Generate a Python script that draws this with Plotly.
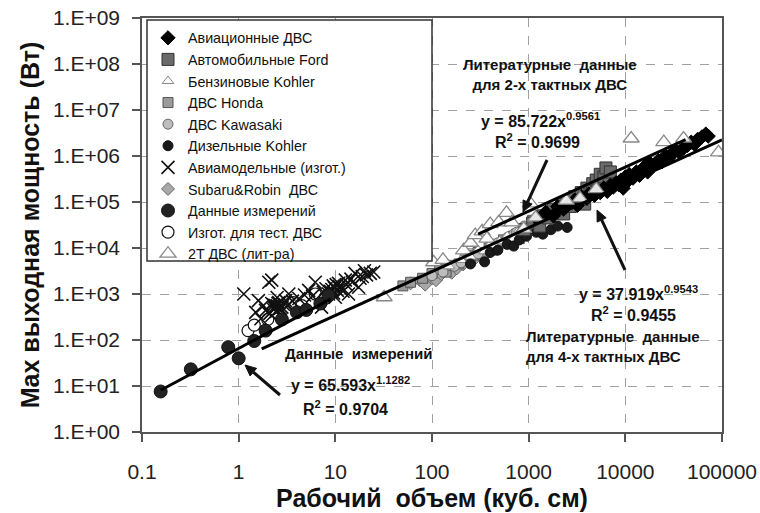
import math
import plotly.graph_objects as go

# ---------------- data ----------------
avia_x = [1200, 1500, 1800, 2000, 2300, 2600, 3000, 3200, 3500, 4000, 4200, 4800, 5000, 5500, 6000, 6500,
          7000, 7500, 8000, 8500, 9000, 9500, 10000, 10500, 11000, 12000, 13000, 14000, 15000, 16000, 17000,
          18000, 20000, 22000, 24000, 26000, 28000, 30000, 33000, 36000, 40000, 44000, 48000, 52000, 56000,
          62000, 68000, 72000]
avia_y = [45000, 60000, 50000, 80000, 70000, 90000, 110000, 85000, 130000, 120000, 150000, 140000, 180000,
          160000, 200000, 170000, 230000, 210000, 260000, 240000, 300000, 200000, 350000, 280000, 400000,
          330000, 450000, 380000, 500000, 600000, 450000, 700000, 650000, 800000, 750000, 1000000, 900000,
          1100000, 1300000, 1200000, 1500000, 1700000, 2000000, 1800000, 2300000, 2600000, 3000000, 2700000]

ford_x = [900, 1100, 1300, 1400, 1600, 1800, 2000, 2200, 2300, 2500, 2700, 3000, 3300, 3500, 3800, 4000,
          4300, 4600, 5000, 5200, 5500, 6000, 6300, 6800, 7000]
ford_y = [25000, 35000, 30000, 50000, 45000, 70000, 60000, 90000, 55000, 100000, 80000, 130000, 110000,
          160000, 90000, 200000, 150000, 250000, 300000, 180000, 400000, 350000, 550000, 250000, 450000]

kohler_gas_x = [150, 200, 250, 300, 350, 400, 450, 500, 600, 700, 800, 950]
kohler_gas_y = [4000, 5500, 6500, 9000, 8500, 12000, 11000, 14000, 18000, 16000, 25000, 30000]

honda_x = [50, 60, 80, 100, 120, 140, 160, 190, 220, 250, 270, 300, 340, 390, 430, 480, 550, 620, 690,
           750, 800, 950, 1100]
honda_y = [1500, 1800, 2200, 2800, 3500, 3000, 4200, 4500, 5500, 6000, 7000, 8000, 7500, 10000, 9000,
           12000, 15000, 14000, 18000, 20000, 16000, 28000, 40000]

kawa_x = [100, 130, 170, 200, 250, 300, 400, 480, 600, 700, 750, 900]
kawa_y = [2500, 3000, 4000, 4800, 6500, 7500, 11000, 13000, 17000, 20000, 22000, 30000]

diesel_x = [250, 350, 400, 480, 600, 700, 800, 950, 1200, 1400, 1700, 2000, 2500]
diesel_y = [4500, 5000, 8000, 9000, 12000, 11000, 15000, 18000, 22000, 20000, 25000, 30000, 28000]

model_x = [1.13, 2.05, 2.2, 1.6, 1.9, 2.2, 2.5, 1.7, 2.2, 2.7, 3.05, 3.3, 2.4, 2.6, 2.9, 2.3, 2.1,
           5.3, 6.2, 5.8, 7.2, 8.0, 9.0, 10.0, 10.8, 12.7, 13.7, 16.0, 17.4, 20.0, 23.0, 11.5, 9.5, 14.5,
           19.0, 8.5, 12.0, 2.35, 2.5, 2.65, 2.8, 2.45, 2.3, 2.55, 3.2, 3.6, 4.2, 4.8, 9.2, 9.8, 10.5,
           11.0, 8.8, 9.6, 10.2, 15.0, 18.0, 21.0, 25.0, 13.0, 7.5, 1.8, 1.5]
model_y = [1000, 1800, 2000, 720, 440, 620, 840, 290, 340, 490, 720, 1000, 550, 650, 600, 460, 380,
           1200, 1800, 900, 520, 1300, 1100, 850, 1700, 2000, 1000, 2800, 1400, 3200, 2800, 1300, 1500,
           2100, 2400, 1000, 1150, 500, 560, 480, 520, 420, 580, 620, 560, 700, 800, 950, 1250, 1350,
           1200, 1450, 1150, 1050, 1600, 1800, 2200, 2600, 3000, 1600, 1100, 560, 400]

subaru_x = [60, 75, 85, 100, 110, 125, 140, 160, 180, 210, 240, 280, 330, 400]
subaru_y = [1700, 2000, 1600, 2200, 2000, 2700, 3200, 2900, 3600, 4400, 5000, 6000, 6500, 8500]

meas_x = [0.156, 0.32, 0.78, 1.0, 1.45, 1.9, 2.8, 4.0, 5.0, 7.0, 8.5]
meas_y = [7.6, 23, 70, 40, 95, 160, 280, 400, 450, 620, 930]

test_x = [1.25, 1.45, 2.0, 3.7, 4.5, 6.2, 7.8]
test_y = [160, 210, 280, 650, 560, 1000, 800]

lit2t_x = [32, 104, 130, 212, 250, 280, 330, 370, 400, 490, 590, 670, 890, 1040, 1180, 2450, 3400,
           5000, 11500, 25000, 40000, 92000]
lit2t_y = [850, 4900, 5500, 8900, 13000, 19000, 23000, 16000, 33000, 36000, 58000, 36000, 26000, 93000,
           46000, 107000, 120000, 190000, 2400000, 2000000, 2400000, 1200000]

# trend lines (coefficients and x-extent as printed on the chart)
fit_meas = (65.593, 1.1282, [0.156, 9])
fit_4t = (37.919, 0.9543, [1.73, 100000])
fit_2t = (85.722, 0.9561, [300, 42000])

x_ticks = [0.1, 1, 10, 100, 1000, 10000, 100000]
x_ticktext = ["0.1", "1", "10", "100", "1000", "10000", "100000"]
y_ticks = [1e0, 1e1, 1e2, 1e3, 1e4, 1e5, 1e6, 1e7, 1e8, 1e9]
y_ticktext = ["1.E+00", "1.E+01", "1.E+02", "1.E+03", "1.E+04", "1.E+05", "1.E+06", "1.E+07",
              "1.E+08", "1.E+09"]

# ---------------- figure ----------------
FONT = "Arial, Liberation Sans, sans-serif"
fig = go.Figure()


def add(name, xs, ys, symbol, size, fill, edge, ew=1):
    fig.add_trace(go.Scatter(x=xs, y=ys, mode="markers", name=name,
                             marker=dict(symbol=symbol, size=size, color=fill,
                                         line=dict(color=edge, width=ew))))


add("Изгот. для тест. ДВС", test_x, test_y, "circle", 12, "white", "#111", 1.2)
add("Авиамодельные (изгот.)", model_x, model_y, "x-thin", 13, "#111", "#111", 1.6)
add("Subaru&Robin  ДВС", subaru_x, subaru_y, "diamond", 10, "#a8a8a8", "#666")
add("ДВС Honda", honda_x, honda_y, "square", 10, "#9a9a9a", "#555")
add("ДВС Kawasaki", kawa_x, kawa_y, "circle", 10, "#bdbdbd", "#666")
add("Бензиновые Kohler", kohler_gas_x, kohler_gas_y, "triangle-up", 10, "white", "#888")
add("Дизельные Kohler", diesel_x, diesel_y, "circle", 10, "#1a1a1a", "#111")
add("Автомобильные Ford", ford_x, ford_y, "square", 12, "#6a6a6a", "#333")
add("Авиационные ДВС", avia_x, avia_y, "diamond", 11, "#000", "#000")
add("Данные измерений", meas_x, meas_y, "circle", 13, "#222", "#111")
add("2T ДВС (лит-ра)", lit2t_x, lit2t_y, "triangle-up", 14, "rgba(255,255,255,0.9)", "#888", 1.3)

for a, b, xs in (fit_meas, fit_4t, fit_2t):
    fig.add_trace(go.Scatter(x=xs, y=[a * v ** b for v in xs], mode="lines", showlegend=False,
                             line=dict(color="#000", width=3), hoverinfo="skip"))

legend_order = ["Авиационные ДВС", "Автомобильные Ford", "Бензиновые Kohler", "ДВС Honda",
                "ДВС Kawasaki", "Дизельные Kohler", "Авиамодельные (изгот.)", "Subaru&Robin  ДВС",
                "Данные измерений", "Изгот. для тест. ДВС", "2T ДВС (лит-ра)"]
for tr in fig.data:
    if tr.name in legend_order:
        tr.legendrank = legend_order.index(tr.name) + 1

L, R, T, B = 142, 722, 18, 432


def px(xp):
    return (xp - L) / (R - L)


def py(yp):
    return (B - yp) / (B - T)


def txt(x, y, s, size=15, xanchor="center", align="center"):
    fig.add_annotation(x=px(x), y=py(y), xref="paper", yref="paper", text=s, showarrow=False,
                       xanchor=xanchor, yanchor="middle", align=align,
                       font=dict(family=FONT, size=size, color="#111"))


def arrow(x_tip, y_tip, x_tail, y_tail, head=11, half=5):
    dx, dy = x_tip - x_tail, y_tip - y_tail
    n = math.hypot(dx, dy)
    ux, uy = dx / n, dy / n
    bx, by = x_tip - ux * head, y_tip - uy * head
    fig.add_shape(type="line", xref="paper", yref="paper", x0=px(x_tail), y0=py(y_tail),
                  x1=px(bx), y1=py(by), line=dict(color="#111", width=3))
    p1 = (bx - uy * half, by + ux * half)
    p2 = (bx + uy * half, by - ux * half)
    path = "M {} {} L {} {} L {} {} Z".format(px(x_tip), py(y_tip), px(p1[0]), py(p1[1]),
                                              px(p2[0]), py(p2[1]))
    fig.add_shape(type="path", xref="paper", yref="paper", path=path, fillcolor="#111",
                  line=dict(color="#111", width=1))


txt(550, 75, "<b>Литературные  данные<br>для 2-х тактных ДВС</b>", 15)
txt(540, 120, "<b>y = 85.722x<sup>0.9561</sup></b>", 16)
txt(537, 141, "<b>R<sup>2</sup> = 0.9699</b>", 16)
txt(638, 293, "<b>y = 37.919x<sup>0.9543</sup></b>", 16)
txt(633, 314, "<b>R<sup>2</sup> = 0.9455</b>", 16)
txt(524, 346, "<b>Литературные  данные<br>для 4-х тактных ДВС</b>", 15, xanchor="left", align="left")
txt(283, 353, "<b>Данные  измерений</b>", 15, xanchor="left")
txt(350, 384, "<b>y = 65.593x<sup>1.1282</sup></b>", 16)
txt(345, 408, "<b>R<sup>2</sup> = 0.9704</b>", 16)

arrow(523, 212, 547, 160)
arrow(597, 210, 625, 270)
arrow(245, 365, 280, 395)

# legend frame (drawn as a box behind the legend entries)
fig.add_shape(type="rect", xref="paper", yref="paper", x0=px(147), x1=px(432), y0=py(261), y1=py(20),
              fillcolor="white", line=dict(color="#333", width=1.5), layer="above")

axis_common = dict(type="log", showline=True, linecolor="#555", linewidth=1.5, mirror=True,
                   ticks="outside", ticklen=8, tickcolor="#555", tickwidth=1.5, automargin=False,
                   showgrid=True, gridcolor="#a0a0a0", griddash="dash", gridwidth=1,
                   zeroline=False, tickfont=dict(family=FONT, size=21, color="#222"))

fig.update_layout(
    width=760, height=513,
    margin=dict(l=L, r=760 - R, t=T, b=513 - B),
    paper_bgcolor="white", plot_bgcolor="white",
    font=dict(family=FONT, color="#111"),
    xaxis=dict(axis_common, range=[-1, 5], tickvals=x_ticks, ticktext=x_ticktext,
               ticklabelstandoff=12,
               title=dict(text="<b>Рабочий  объем (куб. см)</b>", standoff=8,
                          font=dict(family=FONT, size=25, color="#111"))),
    yaxis=dict(axis_common, range=[0, 9], tickvals=y_ticks, ticktext=y_ticktext,
               ticklabelstandoff=8,
               title=dict(text="<b>Max выходная мощность (Вт)</b>", standoff=6,
                          font=dict(family=FONT, size=25, color="#111"))),
    showlegend=True,
    legend=dict(x=px(148), y=py(22), xanchor="left", yanchor="top", bgcolor="rgba(0,0,0,0)",
                borderwidth=0, font=dict(family=FONT, size=14.3, color="#111"),
                tracegroupgap=0, itemwidth=30),
)

fig.write_html("out.html")
